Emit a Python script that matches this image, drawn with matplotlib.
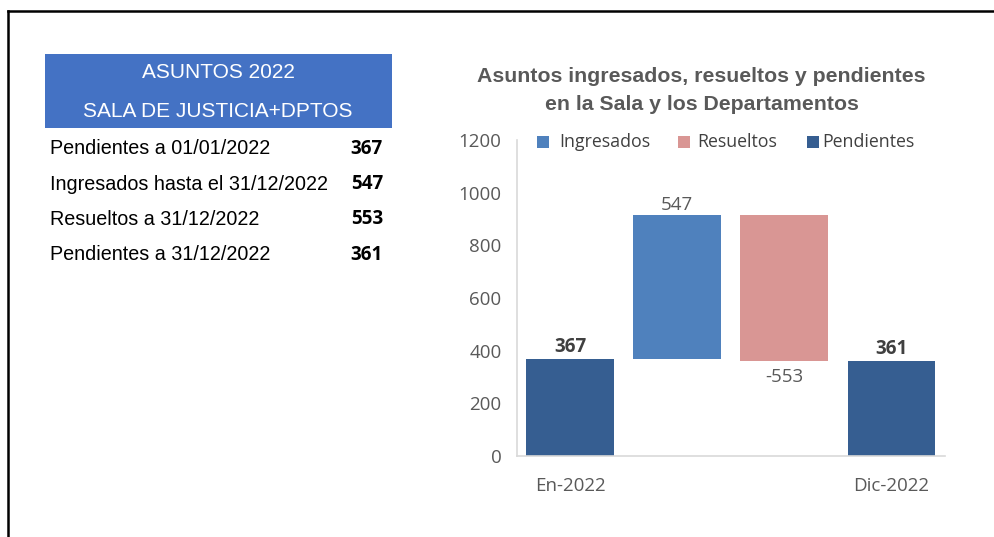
import matplotlib
matplotlib.use('Agg')
import matplotlib.pyplot as plt
from matplotlib import font_manager
from matplotlib.patches import Rectangle
from matplotlib.lines import Line2D

# Summary figures for 2022
start_label = 'En-2022'
end_label = 'Dic-2022'
pendientes_inicio = 367
ingresados = 547
resueltos = 553
pendientes_fin = pendientes_inicio + ingresados - resueltos  # 361

table_header = ['ASUNTOS 2022', 'SALA DE JUSTICIA+DPTOS']
table_rows = ['Pendientes a 01/01/2022', 'Ingresados hasta el 31/12/2022',
              'Resueltos a 31/12/2022', 'Pendientes a 31/12/2022']
table_values = [pendientes_inicio, ingresados, resueltos, pendientes_fin]

legend_names = ['Ingresados', 'Resueltos', 'Pendientes']
c_ing = '#4F81BD'
c_res = '#D99694'
c_pen = '#365E91'

W, H = 995, 537


def fx(x):
    return x / W


def fy(y):
    return 1 - y / H


# Arial Narrow look-alike for the table, if available
names = {f.name for f in font_manager.fontManager.ttflist}
if 'Liberation Sans Narrow' in names:
    table_font, row_size, head_size = 'Liberation Sans Narrow', 16.5, 16.5
else:
    table_font, row_size, head_size = 'Liberation Sans', 14.2, 15

fig = plt.figure(figsize=(W / 100, H / 100), dpi=100)

# frame lines (top and left only)
fig.add_artist(Line2D([fx(7.8), 1], [fy(10.5), fy(10.5)], color='black', lw=1.8,
                      transform=fig.transFigure))
fig.add_artist(Line2D([fx(7.8), fx(7.8)], [fy(10.5), 0], color='black', lw=1.8,
                      transform=fig.transFigure))

# ---- left summary table ----
fig.add_artist(Rectangle((fx(45), fy(128)), fx(392) - fx(45), fy(54) - fy(128),
                         color='#4472C4', transform=fig.transFigure, lw=0))
for txt, y in zip(table_header, [73, 111]):
    fig.text(fx(218), fy(y), txt, color='white', family=table_font, size=head_size,
             ha='center', va='center')

row_y = [148.5, 184, 219.5, 255]
for txt, val, y in zip(table_rows, table_values, row_y):
    fig.text(fx(50), fy(y), txt, color='black', family=table_font, size=row_size,
             ha='left', va='center')
    fig.text(fx(383), fy(y), str(val), color='black', family='Open Sans',
             weight='bold', size=13.5, ha='right', va='center')

# ---- waterfall chart ----
ax = fig.add_axes([fx(516.7), fy(456), fx(945) - fx(516.7), fy(140) - fy(456)])

pos = [0, 1, 2, 3]
bottoms = [0, pendientes_inicio, pendientes_fin, 0]
heights = [pendientes_inicio, ingresados, resueltos, pendientes_fin]
colors = [c_pen, c_ing, c_res, c_pen]
ax.bar(pos, heights, bottom=bottoms, width=0.82, color=colors, zorder=2)

lab_kw = dict(family='Open Sans', size=13.5, ha='center')
ax.annotate(str(pendientes_inicio), (0, pendientes_inicio), xytext=(0, 1.5),
            textcoords='offset points', va='bottom', weight='bold', color='#404040', **lab_kw)
ax.annotate(str(ingresados), (1, pendientes_inicio + ingresados), xytext=(0, 1),
            textcoords='offset points', va='bottom', color='#595959', **lab_kw)
ax.annotate('-' + str(resueltos), (2, pendientes_fin), xytext=(0, -5),
            textcoords='offset points', va='top', color='#595959', **lab_kw)
ax.annotate(str(pendientes_fin), (3, pendientes_fin), xytext=(0, 1.5),
            textcoords='offset points', va='bottom', weight='bold', color='#404040', **lab_kw)

ax.set_xlim(-0.5, 3.5)
ax.set_ylim(0, 1200)
ax.set_yticks(range(0, 1201, 200))
ax.set_xticks(pos)
ax.set_xticklabels([start_label, '', '', end_label])
for s in ['top', 'right']:
    ax.spines[s].set_visible(False)
for s in ['left', 'bottom']:
    ax.spines[s].set_color('#D9D9D9')
    ax.spines[s].set_linewidth(1.2)
ax.tick_params(axis='both', length=0, colors='#595959', labelsize=13.5)
ax.tick_params(axis='y', pad=11)
ax.tick_params(axis='x', pad=15)
for lab in ax.get_xticklabels() + ax.get_yticklabels():
    lab.set_family('Open Sans')

# legend drawn as squares + text
leg_patch_x = [537, 678, 807]
leg_text_x = [559, 697, 822]
for name, px, tx, c in zip(legend_names, leg_patch_x, leg_text_x, [c_ing, c_res, c_pen]):
    fig.add_artist(Rectangle((fx(px), fy(148)), fx(12), 12 / H, color=c,
                             transform=fig.transFigure, lw=0))
    fig.text(fx(tx), fy(142), name, family='Open Sans', size=12.8, color='#404040',
             ha='left', va='center')

# title
fig.text(fx(701.5), fy(76), 'Asuntos ingresados, resueltos y pendientes',
         family='Liberation Sans', weight='bold', size=15.3, color='#595959',
         ha='center', va='center')
fig.text(fx(701.5), fy(104), 'en la Sala y los Departamentos',
         family='Liberation Sans', weight='bold', size=15.3, color='#595959',
         ha='center', va='center')

fig.savefig('out.png', dpi=100)
